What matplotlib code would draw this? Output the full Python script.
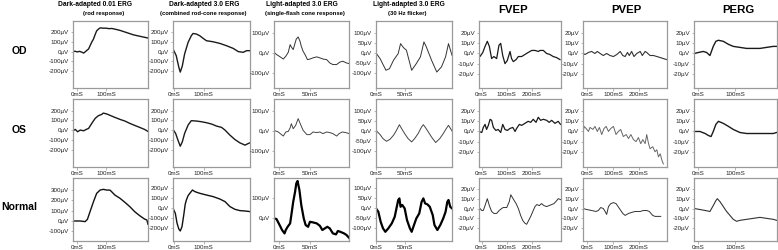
import matplotlib.pyplot as plt

plt.rcParams['font.family'] = ['Liberation Sans', 'DejaVu Sans']

titles = ["Dark-adapted 0.01 ERG", "Dark-adapted 3.0 ERG", "Light-adapted 3.0 ERG",
          "Light-adapted 3.0 ERG", "FVEP", "PVEP", "PERG"]
subtitles = ["(rod response)", "(combined rod-cone response)",
             "(single-flash cone response)", "(30 Hz flicker)", "", "", ""]
row_names = ["OD", "OS", "Normal"]

# ---- Dark-adapted 0.01 ERG (ms, uV) ----
rod_od_t = [-15, -8, 0, 8, 15, 22, 28, 39, 50, 56, 62, 67, 73, 79, 90, 100, 110, 120, 130, 140, 150, 165, 180, 195, 210, 225, 245]
rod_od_v = [0, 4, -3, 3, -5, -15, 0, 28, 100, 131, 180, 217, 235, 248, 245, 245, 240, 242, 235, 228, 220, 205, 190, 175, 165, 155, 142]
rod_os_t = [-15, -7, 1, 10, 22, 31, 39, 50, 62, 73, 85, 90, 102, 113, 130, 148, 165, 182, 199, 216, 233, 245]
rod_os_v = [-7, 7, -17, 0, -7, 7, 17, 69, 121, 148, 162, 175, 166, 152, 131, 110, 93, 69, 48, 28, 7, -14]
rod_n_t = [-15, 10, 27, 35, 44, 56, 67, 79, 90, 102, 113, 119, 130, 148, 165, 182, 199, 216, 233, 241, 245]
rod_n_v = [0, 0, -6, 16, 90, 187, 268, 300, 307, 300, 300, 284, 252, 220, 181, 139, 90, 52, 19, 10, -32]

# ---- Dark-adapted 3.0 ERG ----
mix_od_t = [-5, 6, 15, 20, 27, 35, 47, 58, 64, 76, 87, 99, 110, 133, 156, 179, 202, 220, 237, 248, 260]
mix_od_v = [28, -41, -162, -214, -150, -24, 97, 166, 190, 183, 166, 138, 114, 103, 86, 62, 34, 0, -7, 10, 10]
mix_os_t = [-5, 4, 12, 20, 27, 35, 47, 58, 76, 93, 110, 128, 145, 162, 174, 191, 208, 225, 243, 254, 260]
mix_os_v = [7, -34, -103, -166, -121, -34, 52, 97, 93, 86, 76, 62, 41, 28, 0, -52, -97, -131, -155, -138, -131]
mix_n_t = [-5, 3, 9, 15, 20, 26, 32, 37, 41, 47, 53, 62, 70, 87, 110, 133, 156, 174, 191, 208, 225, 243, 260]
mix_n_v = [0, -50, -150, -207, -227, -183, -67, 40, 83, 127, 150, 183, 167, 150, 133, 117, 93, 67, 17, -10, -23, -27, -33]

# ---- Light-adapted 3.0 ERG single flash ----
cone_od_t = [-8, -4, 2, 7, 11, 15, 18, 20, 23, 26, 28, 31, 34, 36, 39, 42, 46, 50, 55, 61, 66, 71, 77, 82, 87, 93, 98, 103, 109, 113]
cone_od_v = [3, -8, -20, -31, -17, 3, 42, 30, 17, 50, 71, 81, 59, 34, 8, -8, -34, -31, -25, -20, -25, -31, -34, -51, -59, -59, -47, -42, -51, -54]
cone_os_t = [-8, -1, 4, 7, 11, 15, 18, 20, 23, 27, 31, 35, 39, 45, 50, 55, 61, 66, 71, 77, 82, 87, 93, 97, 102, 108, 113]
cone_os_v = [3, -5, -18, -25, -5, -2, 15, 36, 11, 28, 61, 31, 3, -18, -18, -5, -8, -5, -13, -5, -8, -13, -25, -13, -5, -8, -13]
cone_n_t = [-8, -4, 1, 5, 9, 11, 14, 18, 20, 23, 26, 28, 30, 33, 36, 40, 43, 47, 50, 55, 61, 66, 70, 74, 78, 82, 87, 92, 95, 99, 105, 109, 113]
cone_n_v = [0, -3, -33, -58, -75, -58, -42, -25, 17, 83, 133, 175, 187, 142, 67, 0, -33, -42, -17, -20, -25, -37, -58, -50, -42, -50, -75, -80, -63, -67, -75, -83, -97]

# ---- Light-adapted 3.0 ERG 30 Hz flicker ----
flk_od_t = [0, 7, 17, 23, 30, 38, 42, 47, 52, 61, 69, 76, 82, 86, 95, 104, 112, 119, 124, 130]
flk_od_v = [0, -29, -88, -80, -37, -3, 47, 27, 14, -88, -54, -20, 56, 31, -37, -97, -71, -20, 47, -12]
flk_os_t = [0, 7, 12, 18, 24, 30, 35, 40, 44, 49, 55, 61, 66, 72, 78, 81, 86, 95, 102, 109, 115, 120, 124, 130]
flk_os_v = [3, -18, -38, -51, -41, -21, 3, 31, 11, -13, -38, -54, -38, -13, 20, 31, 11, -30, -57, -38, -13, 11, 28, 0]
flk_n_t = [0, 4, 8, 12, 16, 21, 27, 32, 35, 38, 40, 42, 45, 49, 53, 58, 61, 65, 69, 74, 78, 81, 84, 88, 92, 97, 100, 105, 110, 115, 119, 122, 124, 127, 130]
flk_n_v = [0, -17, -67, -100, -117, -100, -75, -42, 0, 42, 50, 8, 17, 0, -58, -100, -117, -83, -50, -25, 33, 50, 25, 20, 8, -33, -83, -108, -83, -50, -17, 33, 42, 8, 0]

# ---- FVEP ----
fvep_od_t = [-10, -6, 5, 14, 23, 31, 40, 49, 60, 69, 76, 84, 93, 102, 113, 119, 126, 137, 146, 159, 172, 185, 199, 212, 225, 232, 245, 258, 271, 284, 297, 311]
fvep_od_v = [0, -3, 1, 7, 12, 7, -5, -3, -5, 8, 10, -2, -10, -7, 2, -5, -8, -6, -3, -3, -1, 1, 3, 3, 2, 3, 3, 0, -1, -3, -4, -6]
fvep_os_t = [-10, 1, 7, 14, 20, 27, 34, 40, 47, 57, 66, 76, 84, 93, 102, 113, 124, 133, 139, 150, 159, 172, 185, 195, 205, 216, 225, 234, 245, 258, 268, 278, 291, 304, 313]
fvep_os_v = [0, -1, 4, 7, 2, 6, 12, 11, 4, 1, 2, -1, 7, 2, 1, 3, 4, 0, 3, 7, 6, 8, 10, 9, 12, 9, 14, 11, 12, 11, 9, 11, 8, 10, 7]
fvep_n_t = [-10, -6, 1, 7, 14, 23, 31, 40, 49, 60, 70, 80, 86, 100, 110, 116, 125, 137, 146, 155, 163, 172, 179, 185, 195, 205, 212, 219, 229, 238, 247, 258, 268, 278, 287, 298, 304, 314]
fvep_n_v = [0, 0, -2, -2, 3, 10, 3, -3, -5, -5, -2, 0, 1, 1, 7, 14, 10, 5, 0, -7, -12, -15, -16, -13, -8, -2, 2, 4, 3, 5, 3, 2, 3, 4, 5, 8, 10, 9]

# ---- PVEP ----
pvep_od_t = [-15, -7, 6, 18, 31, 40, 51, 63, 76, 89, 102, 115, 128, 138, 147, 156, 163, 172, 181, 192, 205, 213, 224, 230, 243, 256, 269, 282, 294, 307]
pvep_od_v = [0, -1, 1, 2, 0, 2, 0, -2, 0, -2, -3, -1, 2, -2, -3, 1, -2, 2, -3, 0, 2, -2, 2, 1, -2, -2, -3, -4, -5, -6]
pvep_os_t = [-15, -11, -3, 6, 12, 23, 31, 40, 48, 57, 66, 74, 83, 92, 102, 112, 121, 130, 140, 151, 160, 169, 179, 189, 198, 207, 215, 224, 230, 237, 243, 253, 262, 269, 275, 282, 288, 294]
pvep_os_v = [-3, 5, 3, 0, 4, 2, 5, 0, 4, -3, 3, 5, 0, 3, 5, -3, 0, 2, -5, -3, -7, -3, -8, -10, -6, -12, -8, -12, -3, -12, -17, -15, -20, -18, -25, -22, -28, -32]
pvep_n_t = [-15, -1, 18, 35, 44, 53, 63, 70, 76, 83, 92, 102, 112, 125, 138, 147, 160, 172, 185, 205, 217, 230, 240, 253, 262, 275, 284]
pvep_n_v = [0, -1, -2, -3, -2, 1, 0, -3, -6, 2, 5, 6, 5, 0, -5, -7, -5, -4, -3, -3, -2, -2, -3, -7, -8, -8, -8]

# ---- PERG ----
perg_od_t = [-10, 1, 14, 23, 32, 41, 48, 55, 68, 82, 95, 113, 131, 149, 167, 185, 203, 212]
perg_od_v = [0, 1, 2, 1, -2, 7, 12, 13, 12, 9, 7, 6, 5, 5, 5, 6, 7, 7]
perg_os_t = [-10, 5, 19, 28, 35, 41, 48, 55, 68, 82, 95, 113, 131, 149, 167, 185, 203, 212]
perg_os_v = [0, 0, -2, -4, -5, 0, 7, 10, 8, 5, 2, -1, -2, -2, -2, -2, -2, -1]
perg_n_t = [-10, 5, 19, 32, 41, 48, 52, 59, 68, 77, 86, 95, 104, 113, 131, 149, 167, 185, 203, 212]
perg_n_v = [0, -1, -2, -3, 3, 8, 10, 7, 2, -3, -7, -11, -13, -12, -11, -10, -9, -10, -11, -12]

traces = [
    [(rod_od_t, rod_od_v), (mix_od_t, mix_od_v), (cone_od_t, cone_od_v), (flk_od_t, flk_od_v),
     (fvep_od_t, fvep_od_v), (pvep_od_t, pvep_od_v), (perg_od_t, perg_od_v)],
    [(rod_os_t, rod_os_v), (mix_os_t, mix_os_v), (cone_os_t, cone_os_v), (flk_os_t, flk_os_v),
     (fvep_os_t, fvep_os_v), (pvep_os_t, pvep_os_v), (perg_os_t, perg_os_v)],
    [(rod_n_t, rod_n_v), (mix_n_t, mix_n_v), (cone_n_t, cone_n_v), (flk_n_t, flk_n_v),
     (fvep_n_t, fvep_n_v), (pvep_n_t, pvep_n_v), (perg_n_t, perg_n_v)],
]

# axis ticks
yticks = [
    [[-200, -100, 0, 100, 200], [-200, -100, 0, 100, 200], [-100, 0, 100], [-100, -50, 0, 50, 100]] + [[-20, -10, 0, 10, 20]] * 3,
    [[-200, -100, 0, 100, 200], [-200, -100, 0, 100, 200], [-100, 0, 100], [-100, -50, 0, 50, 100]] + [[-20, -10, 0, 10, 20]] * 3,
    [[-100, 0, 100, 200, 300], [-200, -100, 0, 100, 200], [0, 100], [-100, -50, 0, 50, 100]] + [[-20, -10, 0, 10, 20]] * 3,
]
xticks = [[0, 100], [0, 100], [0, 50], [0, 50], [0, 100, 200], [0, 100, 200], [0, 100]]

# layout (pixels on a 778x250 canvas)
W, H = 778, 250
col_px = [(73, 148), (173, 250), (274, 349), (376, 452), (479, 561), (583, 667), (694, 777)]
row_px = [(21, 88), (99, 167), (178, 241)]
xlims = [(-15, 245), (-5, 260), (-8, 113), (0, 130), (-10, 315), (-15, 308), (-11, 213)]
ylims = [
    [(-380, 320), (-380, 320), (-178, 162), (-178, 162), (-34, 32), (-34, 32), (-34, 32)],
    [(-380, 320), (-380, 320), (-178, 158), (-178, 158), (-35, 32), (-35, 32), (-35, 32)],
    [(-194, 417), (-327, 303), (-113, 202), (-163, 152), (-33, 31), (-33, 31), (-33, 31)],
]
line_w = [
    [1.0, 1.0, 0.7, 0.7, 0.9, 0.8, 1.0],
    [1.0, 1.0, 0.7, 0.7, 0.9, 0.7, 1.0],
    [1.0, 1.0, 1.6, 1.6, 0.7, 0.7, 0.8],
]
line_c = [
    ['#1a1a1a', '#1a1a1a', '#333333', '#333333', '#1a1a1a', '#333333', '#1a1a1a'],
    ['#1a1a1a', '#1a1a1a', '#444444', '#444444', '#1a1a1a', '#666666', '#1a1a1a'],
    ['#111111', '#111111', '#000000', '#000000', '#333333', '#333333', '#333333'],
]
# header centres in pixels (title, subtitle)
title_x = [95, 204, 302, 409, 513, 626, 738]
subtitle_x = [104, 203, 305, 407]

fig = plt.figure(figsize=(W / 100, H / 100), dpi=100)

for r in range(3):
    top, bot = row_px[r]
    for c in range(7):
        x0, x1 = col_px[c]
        ax = fig.add_axes([x0 / W, 1 - bot / H, (x1 - x0) / W, (bot - top) / H])
        t, v = traces[r][c]
        ax.plot(t, v, color=line_c[r][c], lw=line_w[r][c])
        ax.set_xlim(*xlims[c])
        ax.set_ylim(*ylims[r][c])
        ax.set_yticks(yticks[r][c])
        ax.set_yticklabels([f"{y}µV" for y in yticks[r][c]])
        ax.set_xticks(xticks[c])
        ax.set_xticklabels([f"{x}mS" for x in xticks[c]])
        ax.tick_params(labelsize=4.5, length=1.8, width=0.5, pad=1.2,
                       colors='#999999', labelcolor='#222222')
        for s in ax.spines.values():
            s.set_color('#9a9a9a')
            s.set_linewidth(0.9)

# column headers
for c in range(7):
    if subtitles[c]:
        fig.text(title_x[c] / W, 1 - 5 / H, titles[c], ha='center', va='center',
                 fontsize=4.8, fontweight='bold')
        fig.text(subtitle_x[c] / W, 1 - 14 / H, subtitles[c], ha='center', va='center',
                 fontsize=4.2, fontweight='bold')
    else:
        fig.text(title_x[c] / W, 1 - 10 / H, titles[c], ha='center', va='center',
                 fontsize=8.2, fontweight='bold')

# row labels
for r in range(3):
    top, bot = row_px[r]
    fig.text(19.5 / W, 1 - ((top + bot) / 2 - 3) / H, row_names[r], ha='center',
             va='center', fontsize=7.5, fontweight='bold')

fig.savefig("out.png", dpi=100)
